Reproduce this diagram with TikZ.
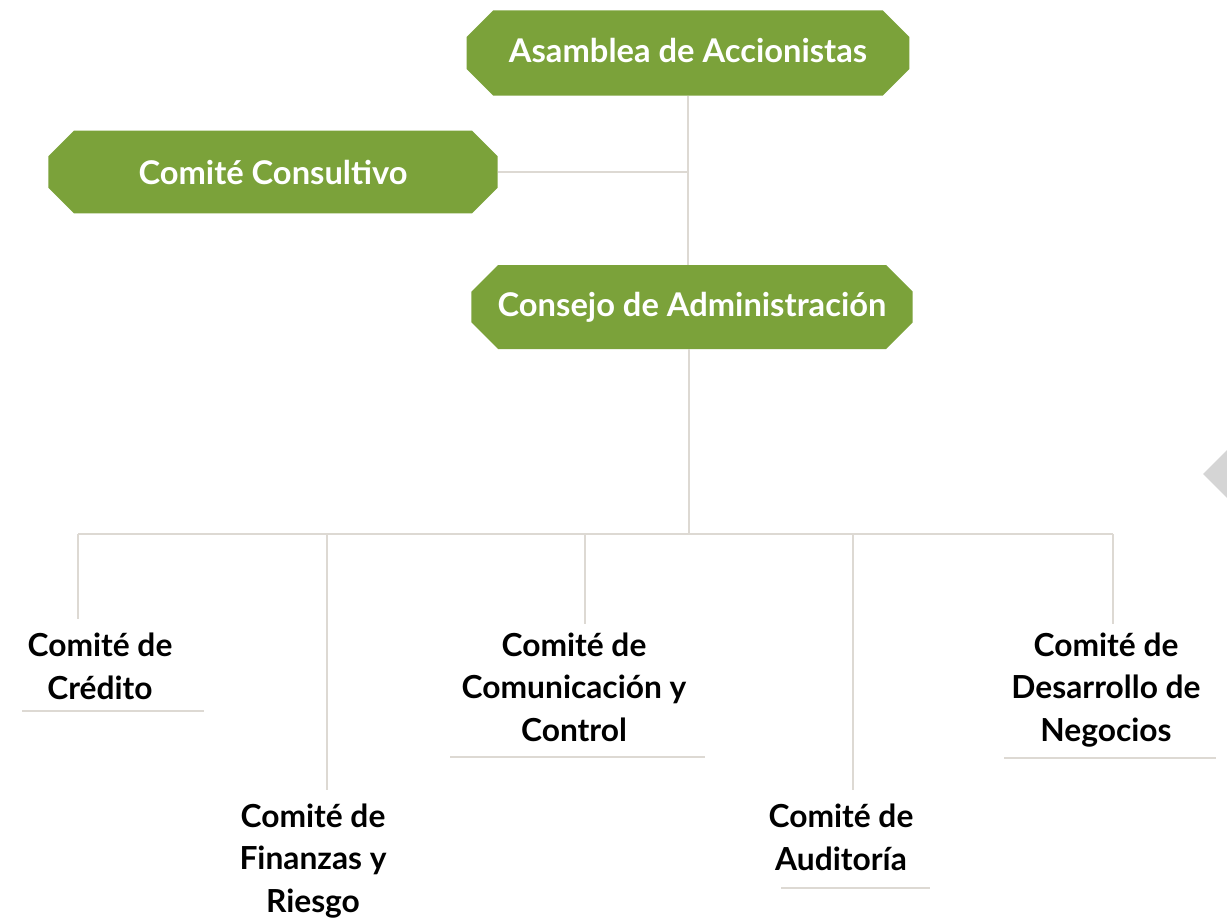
\documentclass[tikz,border=0pt]{standalone}
\usepackage{fontspec}
\setmainfont{Lato}
\usetikzlibrary{shapes.misc}
\definecolor{verde}{RGB}{123,162,58}
\definecolor{linea}{RGB}{221,217,211}
\definecolor{flecha}{RGB}{213,213,213}
\tikzset{
  caja/.style={chamfered rectangle, chamfered rectangle xsep=10pt, chamfered rectangle ysep=10pt,
    fill=verde, text=white, font=\bfseries\fontsize{24.5}{32}\selectfont, inner sep=0pt},
  comite/.style={align=center, font=\bfseries\fontsize{23.8}{32}\selectfont, inner sep=0pt},
  conector/.style={draw=linea, line width=1.6pt},
}
\begin{document}
\begin{tikzpicture}[x=0.75pt,y=-0.75pt]
\useasboundingbox (0,0) rectangle (1227,920);
% cajas verdes
\node[caja, minimum width=332pt, minimum height=64pt] (asamblea) at (688,53) {\raisebox{4pt}{Asamblea de Accionistas}};
\node[caja, minimum width=337pt, minimum height=62pt] (consultivo) at (273,172) {\raisebox{-2pt}{Comité Consultivo}};
\node[caja, minimum width=331pt, minimum height=63pt] (consejo) at (692,307) {\raisebox{2.7pt}{Consejo de Administración}};
\draw[conector] (asamblea.south) -- (asamblea.south |- consejo.north);
\draw[conector] (consultivo.east) -- (consultivo.east -| asamblea.south);
% barra de comites
\coordinate (bus) at (689,534);
\coordinate (c1) at (78,619);
\coordinate (c2) at (327,790);
\coordinate (c3) at (585,624);
\coordinate (c4) at (853,790);
\coordinate (c5) at (1113,624);
\draw[conector] (consejo.south -| bus) -- (bus);
\draw[conector] (c1 |- bus) -- (c5 |- bus);
\foreach \c in {c1,c2,c3,c4,c5}
  \draw[conector] (\c |- bus) -- (\c);
% comites
\node[comite] (credito) at (100,666) {Comité de\\Crédito};
\node[comite] (finanzas) at (313,861) {Comité de\\Finanzas y\\Riesgo};
\node[comite] (comunicacion) at (574,687) {Comité de\\Comunicación y\\Control};
\node[comite] (auditoria) at (841,837) {Comité de\\Auditoría};
\node[comite] (desarrollo) at (1106,690) {Comité de\\Desarrollo de\\Negocios};
\draw[conector] (22,711) -- (204,711);
\draw[conector] (450,757) -- (705,757);
\draw[conector] (781,888) -- (930,888);
\draw[conector] (1004,758) -- (1216,758);
% flecha gris del borde
\fill[flecha] (1203,474) -- (1227,450) -- (1227,498) -- cycle;
\end{tikzpicture}
\end{document}
